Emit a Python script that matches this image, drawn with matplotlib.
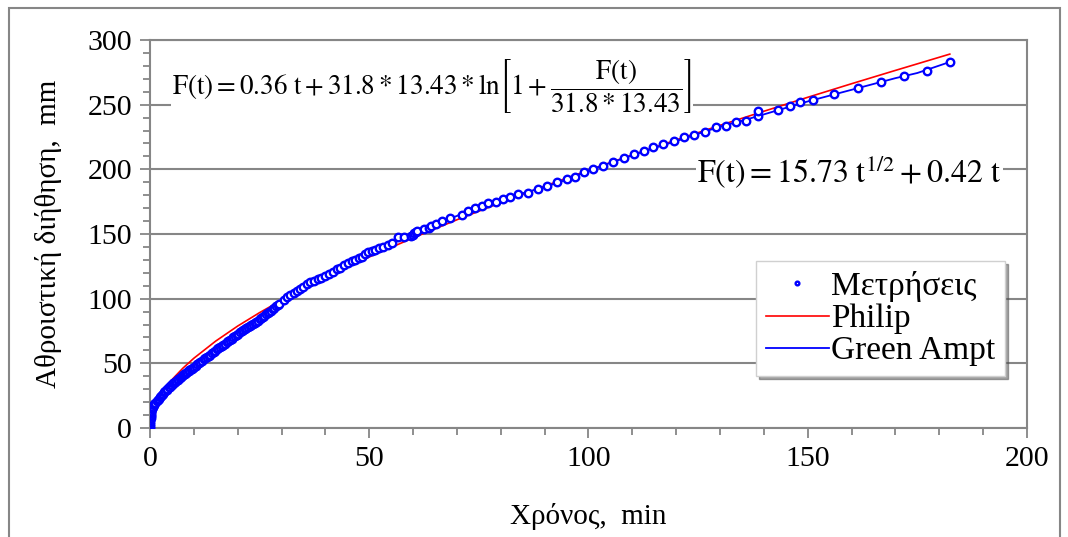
import matplotlib
matplotlib.use("Agg")
import matplotlib.pyplot as plt
from matplotlib.patches import Rectangle
from matplotlib.ticker import MultipleLocator

plt.rcParams['font.family'] = ['Liberation Serif', 'DejaVu Serif']
plt.rcParams['mathtext.fontset'] = 'stix'

# Measured cumulative infiltration (Μετρήσεις)
t_meas = [0, 0, 0.05, 0.08, 0.1, 0.13, 0.17, 0.2, 0.25, 0.3, 0.35, 0.42, 0.5,
          0.67, 0.83, 1.0, 1.25, 1.5, 1.75, 2.0, 2.3, 2.5, 2.8, 3.0, 3.3, 3.5,
          3.8, 4.0, 4.3, 4.5, 4.8, 5.0, 5.3, 5.5, 5.8,
          6.0, 6.3, 6.5, 6.8, 7.0, 7.3, 7.5, 7.8, 8.0, 8.3, 8.5, 8.8, 9.0, 9.3,
          9.5, 9.8, 10.0,
          10.4, 10.75, 11.1, 11.5, 11.9, 12.25, 12.6, 13, 13.4, 13.75, 14.1, 14.5,
          14.9, 15.25, 15.6, 16, 16.4, 16.75, 17.1, 17.5, 17.9, 18.25, 18.6, 19,
          19.4, 19.75, 20.1, 20.5, 20.9, 21.25, 21.6, 22, 22.4, 22.75, 23.1, 23.5,
          23.9, 24.25, 24.6, 25, 25.4, 25.75, 26.1, 26.5, 26.9, 27.25, 27.6, 28,
          28.4, 28.75, 29.1, 29.5,
          30.5, 31.2, 32, 32.8, 33.6, 34.3, 35, 35.8, 36.5, 37.4, 38.3, 39.1, 40,
          40.9, 41.8, 42.6, 43.4, 44.3, 45.2, 46, 46.8, 47.6, 48.4, 49.1, 49.8,
          50.6, 51.4, 52.3, 53.2, 54.2, 55.3, 56.6, 58, 59.5, 60, 60.3, 60.7, 61,
          62.5, 63.7, 64, 65.3, 66.7, 68.4,
          71.2, 72.6, 74.2, 75.8, 77.2, 78.8, 80.4, 82.2, 84, 86.1, 88.6, 90.6,
          92.9, 95.2, 97, 98.9, 101.1, 103.4, 105.7, 108, 110.3, 112.6, 114.8,
          117.1, 119.4, 121.7, 124, 126.5, 129, 131.3, 133.6, 136, 138.6, 138.6,
          143.2, 145.9, 148.2, 151.1, 156, 161.4, 166.7, 172, 177.2, 182.4]
F_meas = [0, 1.5, 3, 4.5, 6, 7.5, 9, 10, 11.5, 12.5, 13.5, 14.5, 15.5,
          16.5, 17.5, 18.5, 19.5, 20.5, 21.5, 22.5, 23.7, 24.5, 25.6, 26.5, 27.7,
          28.5, 29.7, 30.5, 31.4, 32, 33, 33.5, 34.5, 35, 35.9,
          36.5, 37.4, 38, 38.8, 39.3, 40.1, 40.7, 41.5, 42, 42.8, 43.3, 44.1,
          44.6, 45.3, 45.8, 46.5, 47,
          48.1, 49.2, 50.1, 51, 52.1, 53, 53.9, 54.9, 55.8, 56.7, 57.8, 58.8,
          59.9, 60.8, 61.6, 62.6, 63.6, 64.4, 65.3, 66.4, 67.4, 68.2, 69.1, 70.2,
          71.2, 72, 73, 74, 75, 75.8, 76.6, 77.5, 78.3, 79, 79.7, 80.6,
          81.5, 82.3, 83.1, 84, 85, 85.9, 86.8, 87.8, 88.7, 89.6, 90.6, 91.8,
          92.9, 94, 95, 96,
          99, 101, 103, 104.5, 105.6, 107.5, 109.3, 111.5, 113.2, 114, 114.9,
          116, 117.2, 119.2, 121, 122.6, 124, 126, 127.9, 129, 130.2, 131.4,
          132.6, 134.5, 136.2, 137.2, 138, 139.1, 140.3, 141.8, 143.4, 148,
          147.5, 148.5, 149.5, 150.5, 151.5, 152.5, 153.5, 154.5, 156, 157.5,
          159.7, 162,
          165, 167.4, 169.8, 171.3, 173.6, 175, 176.7, 178.3, 180.6, 182, 184.5,
          186.8, 189.9, 192.2, 193.8, 197.7, 200, 202.3, 206, 209, 211.6, 214,
          217, 219.4, 221.7, 224.8, 226.4, 229, 232.6, 233.3, 236.4, 237, 241,
          245, 245.7, 248.8, 252, 253.5, 258, 262.8, 267.4, 272, 276, 283]

# Philip model curve
t_philip = [0, 0.25, 0.5, 1, 2, 3, 5, 7.5, 10, 15, 20, 25, 30, 40, 50, 60, 70,
            80, 90, 100, 110, 120, 130, 140, 150, 160, 170, 182.4]
F_philip = [0, 8.0, 11.3, 16.2, 23.1, 28.5, 37.3, 46.2, 53.9, 67.2, 78.8, 89.2,
            98.8, 116.3, 132.2, 147.0, 161.0, 174.3, 187.0, 199.3, 211.2, 222.7,
            234.0, 244.9, 255.7, 266.2, 276.5, 289.1]

# Green Ampt model curve
t_ga = [0, 0.1, 0.3, 0.6, 1, 2, 3, 5, 7.5, 10, 15, 20, 25, 30, 35, 40, 45, 50,
        55, 60, 65, 70, 75, 80, 85, 90, 95, 100, 105, 110, 115, 120, 125, 130,
        135, 140, 145, 150, 155, 160, 165, 170, 175, 182.4]
F_ga = [0, 5, 10, 15, 18.5, 22.5, 26.5, 33.5, 40.7, 47, 60.5, 72.5, 84, 97.5,
        109, 117.2, 127, 136, 143, 150, 157, 164, 170.8, 176.5, 181.5, 186.3,
        192, 199, 205, 210.8, 216.5, 221.8, 227.5, 233, 237.5, 242.5, 247.5,
        252.5, 257, 261.5, 266, 270.5, 274.5, 283]

x_ticks = [0, 50, 100, 150, 200]
y_ticks = [0, 50, 100, 150, 200, 250, 300]

GRID = '#868686'

fig = plt.figure(figsize=(10.68, 5.37), dpi=100)
fig.patches.append(Rectangle((0.0085, -0.01), 0.984, 0.995, transform=fig.transFigure,
                             fill=False, edgecolor=GRID, linewidth=1.5))
ax = fig.add_axes([0.1404, 0.2030, 0.8212, 0.7225])

ax.plot(t_philip, F_philip, color='#FF0000', lw=1.2, label='Philip', zorder=3)
ax.plot(t_ga, F_ga, color='#0000FF', lw=1.3, label='Green Ampt', zorder=4)
ax.plot(t_meas, F_meas, 'o', ls='none', ms=5.4, mfc='white', mec='#0000FF',
        mew=1.7, label='Μετρήσεις', zorder=5)

ax.set_xlim(0, 200)
ax.set_ylim(0, 300)
ax.set_xticks(x_ticks)
ax.set_yticks(y_ticks)
ax.xaxis.set_minor_locator(MultipleLocator(10))
ax.yaxis.set_minor_locator(MultipleLocator(10))
ax.tick_params(which='major', direction='out', length=7, width=1.3, color=GRID,
               labelsize=21.5, pad=6)
ax.tick_params(which='minor', direction='out', length=5, width=1.3, color=GRID)
ax.yaxis.grid(True, which='major', color=GRID, lw=1.5)
ax.set_axisbelow(True)
for s in ax.spines.values():
    s.set_color(GRID)
    s.set_linewidth(1.5)

ax.set_xlabel('Χρόνος,  min', fontsize=21, labelpad=22)
ax.set_ylabel('Αθροιστική διήθηση,  mm', fontsize=21, labelpad=18)

h, l = ax.get_legend_handles_labels()
order = [2, 0, 1]
leg = ax.legend([h[i] for i in order], [l[i] for i in order], loc='upper right',
                bbox_to_anchor=(0.975, 0.43), fontsize=24, frameon=True,
                fancybox=False, shadow=True, markerscale=0.5, handlelength=1.9,
                handletextpad=0.05, borderpad=0.3, labelspacing=0.05,
                borderaxespad=0)
leg.get_frame().set_edgecolor('#d0d0d0')
leg.get_frame().set_linewidth(1.0)

eq1 = (r'$\mathrm{F}\left(\mathrm{t}\right)=0.36\ \mathrm{t}+31.8*13.43*\mathrm{ln}'
       r'\left[1+\dfrac{\mathrm{F}\left(\mathrm{t}\right)}{31.8*13.43}\right]$')
ax.text(0.025, 0.882, eq1, transform=ax.transAxes, fontsize=19.5, ha='left', va='center',
        bbox=dict(facecolor='white', edgecolor='none', pad=1), zorder=6)
eq2 = r'$\mathrm{F}\left(\mathrm{t}\right)=15.73\ \mathrm{t}^{1/2}+0.42\ \mathrm{t}$'
ax.text(0.624, 0.662, eq2, transform=ax.transAxes, fontsize=23, ha='left', va='center',
        bbox=dict(facecolor='white', edgecolor='none', pad=1), zorder=6)

fig.savefig('out.png', dpi=100)
